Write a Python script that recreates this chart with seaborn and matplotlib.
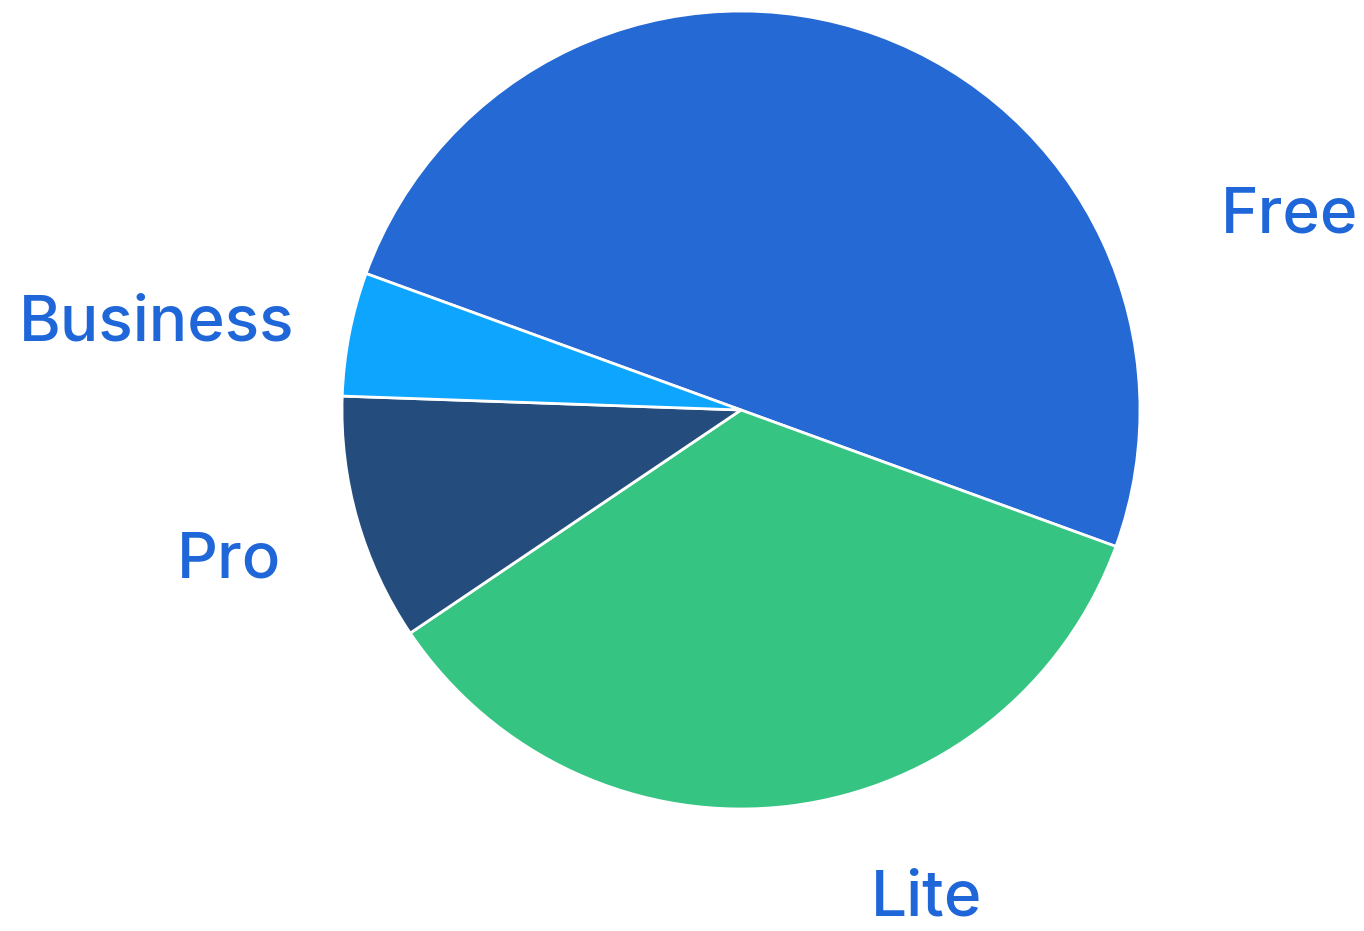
import matplotlib
matplotlib.use("Agg")
import seaborn as sns
from matplotlib import pyplot as plt

# Plan share (percent), clockwise from Free
plans = ["Free", "Lite", "Pro", "Business"]
share = [50, 35, 10, 5]
slice_colors = ["#2569D4", "#35C482", "#244D7E", "#0EA5FF"]

sns.set_style("white")
plt.rcParams["font.family"] = ["Inter", "DejaVu Sans"]

fig = plt.figure(figsize=(13.64, 9.31), dpi=100)
ax = fig.add_axes([0, 0, 1, 1])

wedges, _ = ax.pie(share, colors=slice_colors, startangle=160, counterclock=False,
                   radius=1.0, wedgeprops=dict(edgecolor="white", linewidth=2))

# pie centre at pixel (741, 410), radius 399 px
R = 399
ax.set_xlim(-741 / R, (1364 - 741) / R)
ax.set_ylim(-(931 - 410) / R, 410 / R)
ax.set_aspect("equal")
ax.axis("off")

# label anchors (centre x, baseline y) in axes data units
label_pos = [(1.376, 0.446), (0.464, -1.268), (-1.283, -0.419), (-1.464, 0.175)]
for name, (lx, ly) in zip(plans, label_pos):
    ax.text(lx, ly, name, ha="center", va="baseline", fontsize=46,
            fontweight="medium", color="#1F66D9")

plt.savefig("out.png", dpi=100)
